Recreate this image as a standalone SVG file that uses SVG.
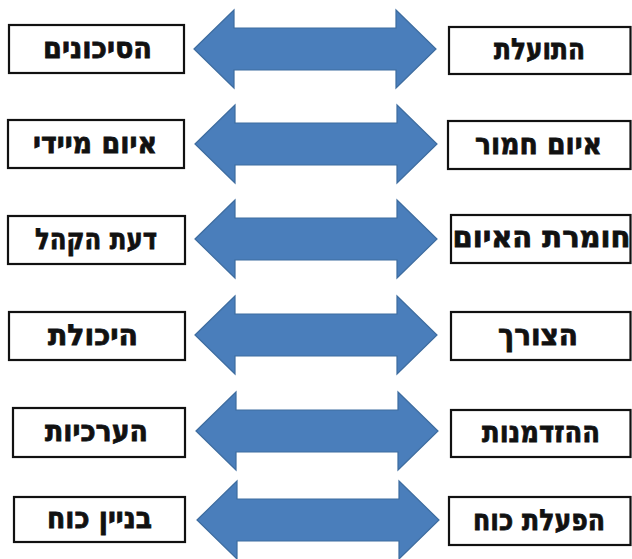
<svg xmlns="http://www.w3.org/2000/svg" xmlns:xlink="http://www.w3.org/1999/xlink" width="632" height="559" viewBox="0 0 632 559">
  <style>
    .box { fill: #ffffff; stroke: #111111; stroke-width: 2.2; }
    .lbl { font-family: "DejaVu Sans", "Liberation Sans", sans-serif; font-weight: bold; font-size: 29px; fill: #111111; stroke: #111111; stroke-width: 0.8; text-anchor: middle; }
    .arrow { fill: #4a7ebb; stroke: #3d6c9f; stroke-width: 1.2; stroke-linejoin: miter; }
  </style>
  <defs>
    <path id="dblarrow" d="M -121,0 L -81,-39 L -81,-21 L 81,-21 L 81,-39 L 121,0 L 81,39 L 81,21 L -81,21 L -81,39 Z"/>
  </defs>
  <rect x="0" y="0" width="632" height="559" fill="#ffffff"/>

  <g id="connectors">
    <use xlink:href="#dblarrow" class="arrow" transform="translate(315,49)"/>
    <use xlink:href="#dblarrow" class="arrow" transform="translate(316,144)"/>
    <use xlink:href="#dblarrow" class="arrow" transform="translate(316,239)"/>
    <use xlink:href="#dblarrow" class="arrow" transform="translate(316,335)"/>
    <use xlink:href="#dblarrow" class="arrow" transform="translate(317,431)"/>
    <use xlink:href="#dblarrow" class="arrow" transform="translate(318,520)"/>
  </g>

  <g id="left1"><rect class="box" x="9" y="25" width="175" height="48"/><text class="lbl" x="97.5" y="58" textLength="109" lengthAdjust="spacingAndGlyphs">הסיכונים</text></g>
  <g id="right1"><rect class="box" x="449" y="27" width="181.5" height="47"/><text class="lbl" x="539.5" y="59" textLength="91" lengthAdjust="spacingAndGlyphs">התועלת</text></g>

  <g id="left2"><rect class="box" x="8" y="120" width="176" height="48"/><text class="lbl" x="95" y="152.5" textLength="124" lengthAdjust="spacingAndGlyphs">איום מיידי</text></g>
  <g id="right2"><rect class="box" x="448" y="121" width="182.5" height="48"/><text class="lbl" x="538.5" y="153.5" textLength="127" lengthAdjust="spacingAndGlyphs">איום חמור</text></g>

  <g id="left3"><rect class="box" x="8" y="216" width="177" height="48"/><text class="lbl" x="96" y="248.5" textLength="122" lengthAdjust="spacingAndGlyphs">דעת הקהל</text></g>
  <g id="right3"><rect class="box" x="451" y="215" width="179.5" height="48"/><text class="lbl" x="541.5" y="247" font-size="23" stroke-width="1">חומרת האיום</text></g>

  <g id="left4"><rect class="box" x="9" y="312" width="176" height="48"/><text class="lbl" x="93" y="344.5" textLength="90" lengthAdjust="spacingAndGlyphs">היכולת</text></g>
  <g id="right4"><rect class="box" x="451" y="312" width="179.5" height="48"/><text class="lbl" x="538" y="344.5" textLength="80" lengthAdjust="spacingAndGlyphs">הצורך</text></g>

  <g id="left5"><rect class="box" x="13" y="408" width="172" height="49"/><text class="lbl" x="96.5" y="441" textLength="103" lengthAdjust="spacingAndGlyphs">הערכיות</text></g>
  <g id="right5"><rect class="box" x="451" y="410" width="179.5" height="47"/><text class="lbl" x="541" y="442" textLength="118" lengthAdjust="spacingAndGlyphs">ההזדמנות</text></g>

  <g id="left6"><rect class="box" x="14" y="497" width="171" height="45"/><text class="lbl" x="99.5" y="528" textLength="105" lengthAdjust="spacingAndGlyphs">בניין כוח</text></g>
  <g id="right6"><rect class="box" x="449" y="497" width="181.5" height="48"/><text class="lbl" x="539" y="530" textLength="132" lengthAdjust="spacingAndGlyphs">הפעלת כוח</text></g>
</svg>
